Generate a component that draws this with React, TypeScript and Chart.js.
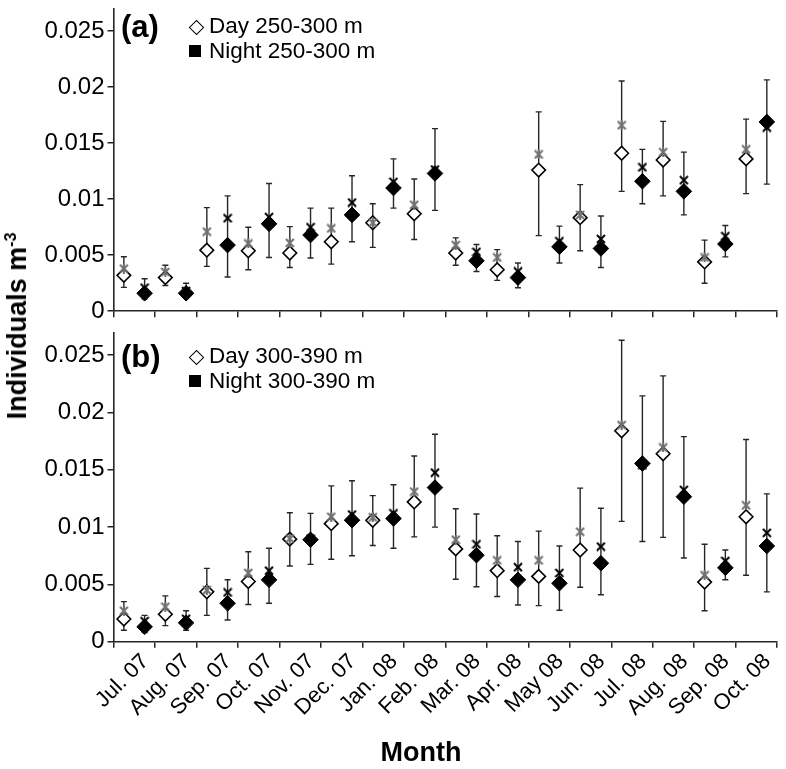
import React, { useEffect, useRef } from "react";
import { Chart, registerables } from "chart.js";

Chart.register(...registerables);

const FONT = "'Liberation Sans', Arial, Helvetica, sans-serif";

// Categories (months) and y ticks
const months = [
  "Jul. 07", "Aug. 07", "Sep. 07", "Oct. 07", "Nov. 07", "Dec. 07", "Jan. 08", "Feb. 08",
  "Mar. 08", "Apr. 08", "May 08", "Jun. 08", "Jul. 08", "Aug. 08", "Sep. 08", "Oct. 08",
];
const yTickValues = [0, 0.005, 0.01, 0.015, 0.02, 0.025];
const yTickLabels = ["0", "0.005", "0.01", "0.015", "0.02", "0.025"];

// Panel (a): 250-300 m
const dayA = [0.0032, 0.003, 0.00545, 0.0054, 0.0052, 0.0062, 0.0079, 0.0087, 0.0052, 0.0037, 0.0126, 0.00835, 0.0141, 0.0135, 0.0044, 0.0136];
const dayStarA = [0.0038, 0.0035, 0.0071, 0.00605, 0.0061, 0.0074, 0.0079, 0.0095, 0.0059, 0.0048, 0.014, 0.0086, 0.0166, 0.0142, 0.0048, 0.01445];
const dayHiA = [0.00486, 0.0041, 0.00925, 0.0075, 0.00755, 0.0092, 0.0096, 0.0118, 0.00655, 0.0055, 0.0178, 0.0113, 0.02055, 0.01695, 0.00635, 0.01715];
const dayLoA = [0.00213, 0.0023, 0.004, 0.0037, 0.0039, 0.0042, 0.0057, 0.0064, 0.0041, 0.00275, 0.00675, 0.0054, 0.0107, 0.0103, 0.0025, 0.0105];
const nightA = [0.0016, 0.0016, 0.0059, 0.0078, 0.0068, 0.0086, 0.011, 0.0123, 0.0045, 0.003, 0.00575, 0.0056, 0.0116, 0.0107, 0.006, 0.0169];
const nightStarA = [0.0021, 0.0018, 0.0083, 0.0084, 0.0075, 0.0097, 0.01155, 0.01265, 0.0053, 0.00355, 0.00625, 0.00645, 0.01285, 0.0117, 0.0067, 0.0164];
const nightHiA = [0.0029, 0.0025, 0.0103, 0.0114, 0.0092, 0.0121, 0.0136, 0.0163, 0.00595, 0.0043, 0.0076, 0.0085, 0.01445, 0.0142, 0.00765, 0.02065];
const nightLoA = [0.0011, 0.0012, 0.00305, 0.0048, 0.00475, 0.0062, 0.0092, 0.009, 0.00355, 0.0021, 0.0043, 0.0039, 0.0096, 0.0086, 0.00485, 0.01135];

// Panel (b): 300-390 m
const dayB = [0.00198, 0.0024, 0.00435, 0.00525, 0.00895, 0.0103, 0.0106, 0.0122, 0.0081, 0.0062, 0.0057, 0.008, 0.0184, 0.0164, 0.0052, 0.0109];
const dayStarB = [0.0027, 0.00305, 0.0045, 0.006, 0.009, 0.0109, 0.01085, 0.0131, 0.0089, 0.0071, 0.0071, 0.0096, 0.0189, 0.01695, 0.0058, 0.0119];
const dayHiB = [0.0035, 0.004, 0.0064, 0.00785, 0.01125, 0.0136, 0.01275, 0.0162, 0.0116, 0.00925, 0.00965, 0.0134, 0.0263, 0.0232, 0.0085, 0.01765];
const dayLoB = [0.001, 0.0014, 0.0023, 0.00325, 0.0066, 0.0072, 0.0084, 0.00915, 0.00545, 0.00395, 0.00315, 0.00475, 0.0105, 0.0091, 0.0027, 0.0058];
const nightB = [0.0013, 0.00165, 0.00335, 0.0054, 0.0089, 0.0106, 0.01075, 0.01345, 0.00755, 0.0054, 0.0051, 0.00685, 0.01555, 0.01265, 0.00645, 0.00835];
const nightStarB = [0.0018, 0.002, 0.0043, 0.0062, 0.009, 0.0111, 0.0112, 0.01475, 0.0085, 0.0065, 0.006, 0.0083, 0.0154, 0.01325, 0.00705, 0.0095];
const nightHiB = [0.0023, 0.0027, 0.0054, 0.00815, 0.0112, 0.01405, 0.0137, 0.0181, 0.01115, 0.00875, 0.00835, 0.01165, 0.02145, 0.0179, 0.008, 0.0129];
const nightLoB = [0.0008, 0.001, 0.0019, 0.00335, 0.00675, 0.0075, 0.00815, 0.01, 0.0048, 0.0032, 0.00275, 0.0041, 0.00875, 0.0073, 0.0054, 0.00435];

function makeMarker(kind: "star" | "x"): HTMLCanvasElement {
  const c = document.createElement("canvas");
  c.width = 10;
  c.height = 10;
  const ctx = c.getContext("2d")!;
  ctx.strokeStyle = kind === "star" ? "#707070" : "#000";
  ctx.lineWidth = 2;
  ctx.beginPath();
  ctx.moveTo(1, 1);
  ctx.lineTo(9, 9);
  ctx.moveTo(9, 1);
  ctx.lineTo(1, 9);
  if (kind === "star") {
    ctx.moveTo(5, 0);
    ctx.lineTo(5, 10);
  }
  ctx.stroke();
  return c;
}

type PanelCfg = {
  day: number[]; dayStar: number[]; dayHi: number[]; dayLo: number[];
  night: number[]; nightStar: number[]; nightHi: number[]; nightLo: number[];
  dayLabel: string; nightLabel: string;
  padTop: number; axisH: number; showLabels: boolean;
};

function errorBarPlugin(bars: { offset: number; hi: number[]; lo: number[] }[]) {
  return {
    id: "errorBars",
    beforeDatasetsDraw(chart: any) {
      const { ctx } = chart;
      const x = chart.scales.x;
      const y = chart.scales.y;
      ctx.save();
      ctx.strokeStyle = "#262626";
      ctx.lineWidth = 1.4;
      ctx.beginPath();
      for (const b of bars) {
        b.hi.forEach((hi, i) => {
          const px = x.getPixelForValue(2 * i + b.offset);
          const yh = y.getPixelForValue(hi);
          const yl = y.getPixelForValue(b.lo[i]);
          ctx.moveTo(px, yh);
          ctx.lineTo(px, yl);
          ctx.moveTo(px - 3, yh);
          ctx.lineTo(px + 3, yh);
          ctx.moveTo(px - 3, yl);
          ctx.lineTo(px + 3, yl);
        });
      }
      ctx.stroke();
      ctx.restore();
    },
  };
}

function buildConfig(p: PanelCfg): any {
  const pts = (vals: number[], off: number) => vals.map((v, i) => ({ x: 2 * i + off, y: v }));
  const star = makeMarker("star");
  const cross = makeMarker("x");
  return {
    type: "scatter",
    data: {
      datasets: [
        { label: p.dayLabel + " (mean)", data: pts(p.dayStar, 0.5), pointStyle: star, pointRadius: 5, order: 0 },
        { label: p.nightLabel + " (mean)", data: pts(p.nightStar, 1.5), pointStyle: cross, pointRadius: 5, order: 0 },
        {
          label: p.dayLabel, data: pts(p.day, 0.5), pointStyle: "rectRot", pointRadius: 6.8,
          pointBackgroundColor: "#ffffff", pointBorderColor: "#000000", pointBorderWidth: 1.6, order: 1,
        },
        {
          label: p.nightLabel, data: pts(p.night, 1.5), pointStyle: "rectRot", pointRadius: 7.8,
          pointBackgroundColor: "#000000", pointBorderColor: "#000000", pointBorderWidth: 1, order: 1,
        },
      ],
    },
    options: {
      animation: false,
      responsive: false,
      devicePixelRatio: 1,
      events: [],
      layout: { padding: { top: p.padTop, right: 7, bottom: 0, left: 0 } },
      plugins: { legend: { display: false }, tooltip: { enabled: false }, title: { display: false } },
      scales: {
        x: { type: "linear", min: 0, max: 32, display: false },
        xm: {
          type: "category",
          labels: months,
          position: "bottom",
          offset: true,
          bounds: "ticks",
          grid: { display: true, offset: true, drawOnChartArea: false, drawTicks: true, tickLength: 6, color: "#262626", lineWidth: 1.5 },
          border: { display: true, color: "#262626", width: 1.6 },
          ticks: {
            display: p.showLabels, autoSkip: false, minRotation: 45, maxRotation: 45,
            color: "#000", font: { family: FONT, size: 22 }, padding: 1, labelOffset: 11,
          },
          afterFit: (s: any) => {
            s.height = p.axisH;
            s.paddingLeft = 0;
            s.paddingRight = 0;
          },
        },
        y: {
          type: "linear",
          position: "left",
          min: 0,
          max: 0.027,
          afterBuildTicks: (s: any) => {
            s.ticks = yTickValues.map((v) => ({ value: v }));
          },
          afterFit: (s: any) => {
            s.width = 113.5;
            s.paddingTop = 0;
            s.paddingBottom = 0;
          },
          ticks: {
            color: "#000",
            font: { family: FONT, size: 24 },
            padding: 3,
            callback: (v: number) => yTickLabels[yTickValues.indexOf(v)] ?? "",
          },
          grid: { drawOnChartArea: false, drawTicks: true, tickLength: 6, color: "#262626", lineWidth: 1.5 },
          border: { display: true, color: "#262626", width: 1.6 },
        },
      },
    },
    plugins: [
      errorBarPlugin([
        { offset: 0.5, hi: p.dayHi, lo: p.dayLo },
        { offset: 1.5, hi: p.nightHi, lo: p.nightLo },
      ]),
    ],
  };
}

function PanelLegend({ cy, tag, dayLabel, nightLabel }: { cy: number; tag: string; dayLabel: string; nightLabel: string }) {
  const line = (c: number, h: number) => ({ position: "absolute" as const, top: c - h / 2, height: h, lineHeight: `${h}px`, whiteSpace: "nowrap" as const });
  return (
    <>
      <div style={{ ...line(cy + 1, 36), left: 121, fontWeight: "bold", fontSize: 31 }}>{tag}</div>
      <div style={{ position: "absolute", left: 191, top: cy - 4.5, width: 9, height: 9, border: "1.6px solid #000", background: "#fff", transform: "rotate(45deg)" }} />
      <div style={{ ...line(cy, 26), left: 209, fontSize: 22.5 }}>{dayLabel}</div>
      <div style={{ position: "absolute", left: 189, top: cy + 25 - 6, width: 12, height: 12, background: "#000" }} />
      <div style={{ ...line(cy + 25, 26), left: 209, fontSize: 22.5 }}>{nightLabel}</div>
    </>
  );
}

export default function App() {
  const refA = useRef<HTMLCanvasElement>(null);
  const refB = useRef<HTMLCanvasElement>(null);

  useEffect(() => {
    const a = new Chart(refA.current!, buildConfig({
      day: dayA, dayStar: dayStarA, dayHi: dayHiA, dayLo: dayLoA,
      night: nightA, nightStar: nightStarA, nightHi: nightHiA, nightLo: nightLoA,
      dayLabel: "Day 250-300 m", nightLabel: "Night 250-300 m",
      padTop: 2.3, axisH: 320 - 311.7, showLabels: false,
    }));
    const b = new Chart(refB.current!, buildConfig({
      day: dayB, dayStar: dayStarB, dayHi: dayHiB, dayLo: dayLoB,
      night: nightB, nightStar: nightStarB, nightHi: nightHiB, nightLo: nightLoB,
      dayLabel: "Day 300-390 m", nightLabel: "Night 300-390 m",
      padTop: 12.3, axisH: 449 - 12.3 - 309.4, showLabels: true,
    }));
    return () => {
      a.destroy();
      b.destroy();
    };
  }, []);

  return (
    <div style={{ position: "absolute", left: 0, top: 0, width: 786, height: 769, background: "#fff", overflow: "hidden", fontFamily: FONT, color: "#000" }}>
      <canvas ref={refA} width={786} height={320} style={{ position: "absolute", left: 0, top: 0 }} />
      <canvas ref={refB} width={786} height={449} style={{ position: "absolute", left: 0, top: 320 }} />
      <PanelLegend cy={26} tag="(a)" dayLabel="Day 250-300 m" nightLabel="Night 250-300 m" />
      <PanelLegend cy={356} tag="(b)" dayLabel="Day 300-390 m" nightLabel="Night 300-390 m" />
      <div style={{ position: "absolute", left: 17, top: 326, transform: "translate(-50%, -50%) rotate(-90deg)", whiteSpace: "nowrap", fontWeight: "bold", fontSize: 27, lineHeight: "30px" }}>
        Individuals m<sup style={{ fontSize: 16, verticalAlign: "10px", lineHeight: 0 }}>-3</sup>
      </div>
      <div style={{ position: "absolute", left: 421, top: 752, transform: "translate(-50%, -50%)", whiteSpace: "nowrap", fontWeight: "bold", fontSize: 27, lineHeight: "32px" }}>
        Month
      </div>
    </div>
  );
}
